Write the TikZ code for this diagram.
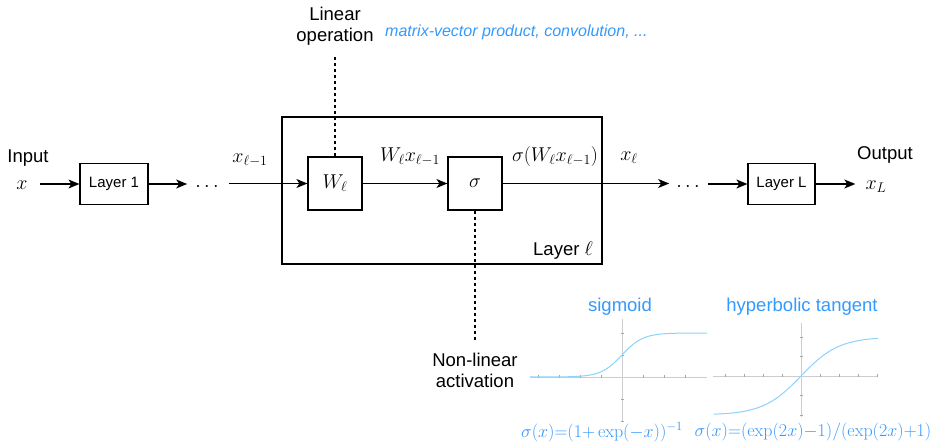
\documentclass[tikz,border=0pt]{standalone}
\usepackage{fix-cm}
\usepackage[no-math]{fontspec}
\setmainfont{Liberation Sans}
\usetikzlibrary{arrows.meta}
\definecolor{hint}{RGB}{51,153,255}
\definecolor{curvecol}{RGB}{140,210,250}
\definecolor{axiscol}{RGB}{205,205,205}

\begin{document}
\begin{tikzpicture}[x=1pt,y=-1pt,
  box/.style={draw, line width=1.2pt, inner sep=0pt},
  link/.style={line width=1.2pt, -{Stealth[length=11pt,width=9pt,inset=3pt]}},
  guide/.style={line width=1.1pt, dash pattern=on 3pt off 3pt},
  lbl/.style={font=\fontsize{18.5}{21}\selectfont, align=center, inner sep=0pt},
  mth/.style={font=\fontsize{20}{22}\selectfont, inner sep=0pt},
  fml/.style={font=\fontsize{18}{20}\selectfont, inner sep=0pt, text=hint},
  axisline/.style={axiscol, line width=0.8pt},
  tick/.style={gray!70, line width=0.6pt},
  curve/.style={curvecol, line width=1pt}]
\useasboundingbox (0,0) rectangle (943,446);

% ---- main chain ----
\node[lbl] (inlbl) at (28,158) {Input};
\node[mth] (xin) at (22,185) {$x$};
\node[box, minimum width=68pt, minimum height=41pt, font=\fontsize{15}{17}\selectfont] (l1) at (114,184) {Layer 1};
\node[mth] (dots1) at (207,187) {$\cdots$};
\node[mth] (xprev) at (250,160) {$x_{\ell-1}$};

\node[box, minimum width=320pt, minimum height=147pt] (layer) at (442,190.5) {};
\node[lbl, anchor=center] (lname) at (563,250) {Layer {\fontsize{20}{21}\selectfont$\ell$}};

\node[box, minimum width=54pt, minimum height=53pt, font=\fontsize{20}{22}\selectfont] (W) at (335,183.5) {$W_\ell$};
\node[box, minimum width=54pt, minimum height=53pt, font=\fontsize{20}{22}\selectfont] (sig) at (475,183.5) {$\sigma$};
\node[mth] (wx) at (410,157) {$W_\ell x_{\ell-1}$};
\node[mth] (swx) at (555,157) {$\sigma(W_\ell x_{\ell-1})$};
\node[mth] (xl) at (629,158) {$x_\ell$};
\node[mth] (dots2) at (688,187) {$\cdots$};

\node[box, minimum width=67pt, minimum height=41pt, font=\fontsize{15}{17}\selectfont] (LL) at (781.5,184) {Layer L};
\node[mth] (xL) at (876,187) {$x_L$};
\node[lbl] (outlbl) at (885,155) {Output};

\draw[link] ([xshift=12pt]xin.east |- l1.west) -- (l1.west);
\draw[link] (l1.east) -- ([xshift=-8pt]dots1.west |- l1.east);
\draw[link] ([xshift=10pt]dots1.east |- W.west) -- (W.west);
\draw[link] (W.east) -- (sig.west);
\draw[link] (sig.east) -- ([xshift=-7pt]dots2.west |- sig.east);
\draw[link] ([xshift=8pt]dots2.east |- LL.west) -- (LL.west);
\draw[link] (LL.east) -- ([xshift=-10pt]xL.west |- LL.east);

% ---- annotations ----
\node[lbl] (linop) at (335,26) {Linear\\operation};
\coordinate (linend) at (335,57);
\draw[guide] (W.north) -- (linend);
\node[font=\itshape\fontsize{16}{19}\selectfont, text=hint, anchor=west, inner sep=0pt] (hintop) at (385,32) {matrix-vector product, convolution, ...};

\node[lbl] (nonlin) at (475,370) {Non-linear\\activation};
\coordinate (nlend) at (475,342);
\draw[guide] (sig.south) -- (nlend);

% ---- sigmoid plot ----
\node[lbl, text=hint] (sigt) at (620,307) {sigmoid};
\draw[axisline] (530,377) -- (707,377);
\draw[axisline] (622,319) -- (622,421);
\foreach \t in {-84,-63,-42,-21,21,42,63}
  \draw[tick] ({622+\t},375.5) -- ({622+\t},378.5);
\foreach \t in {-44,-22,22,44}
  \draw[tick] (620.5,{377+\t}) -- (623.5,{377+\t});
\draw[curve] plot[domain=-8.76:8.1, samples=120, smooth] ({622+10.5*\x},{377-44/(1+exp(-\x))});
\node[fml] (sigf) at (602,432) {$\sigma(x){=}(1{+}\exp(-x))^{-1}$};

% ---- tanh plot ----
\node[lbl, text=hint] (tanht) at (802,307) {hyperbolic tangent};
\draw[axisline] (713,376) -- (878,376);
\draw[axisline] (801,323) -- (801,417);
\foreach \t in {-76,-57,-38,-19,19,38,57,76}
  \draw[tick] ({801+\t},374.5) -- ({801+\t},377.5);
\foreach \t in {-39,-19.5,19.5,39}
  \draw[tick] (799.5,{376+\t}) -- (802.5,{376+\t});
\draw[curve] plot[domain=-2.3:2.03, samples=120, smooth] ({801+38*\x},{376-39*tanh(\x)});
\node[fml] (tanhf) at (813,432) {$\sigma(x){=}(\exp(2x){-}1)/(\exp(2x){+}1)$};
\end{tikzpicture}
\end{document}
